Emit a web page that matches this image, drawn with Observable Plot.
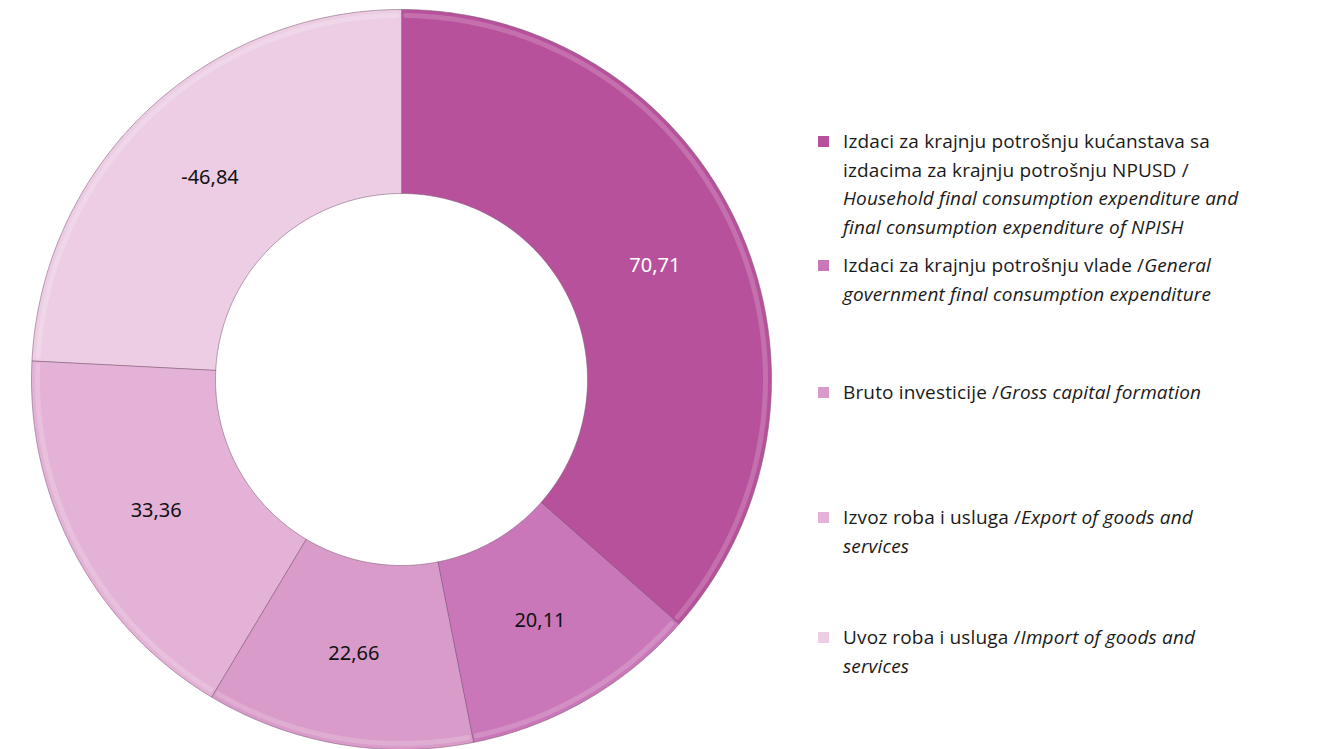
<!DOCTYPE html>
<html>
<head>
<meta charset="utf-8">
<script src="https://cdn.jsdelivr.net/npm/d3@7"></script>
<script src="https://cdn.jsdelivr.net/npm/@observablehq/plot@0.6"></script>
<style>
  html, body { margin: 0; padding: 0; background: #fff; }
  #wrap { position: relative; width: 1326px; height: 749px; overflow: hidden; }
  #legend { position: absolute; left: 816px; top: 0; width: 510px; font-family: "Open Sans", sans-serif; font-size: 19px; color: #1a1a1a; line-height: 28.5px; }
  .item { position: absolute; left: 0; width: 510px; }
  .sw { position: absolute; left: 2px; top: 9px; width: 11px; height: 11px; }
  .txt { position: absolute; left: 27px; width: 480px; letter-spacing: 0.15px; white-space: nowrap; }
  .txt i { font-style: italic; }
</style>
</head>
<body>
<div id="wrap"><div id="chart"></div><div id="legend"></div></div>
<script>
// ---- data ----
const categories = [
  "Izdaci za krajnju potrošnju kućanstava sa izdacima za krajnju potrošnju NPUSD",
  "Izdaci za krajnju potrošnju vlade",
  "Bruto investicije",
  "Izvoz roba i usluga",
  "Uvoz roba i usluga"
];
const values = [70.71, 20.11, 22.66, 33.36, -46.84];
const valueLabels = ["70,71", "20,11", "22,66", "33,36", "-46,84"];
const colors = ["#b7519c", "#c977b8", "#d99bc9", "#e3b2d6", "#ecCde3"];
const labelColors = ["#ffffff", "#111111", "#111111", "#111111", "#111111"];
const legendHtml = [
  "Izdaci za krajnju potrošnju kućanstava sa<br>izdacima za krajnju potrošnju NPUSD /<br><i>Household final consumption expenditure and<br>final consumption expenditure of NPISH</i>",
  "Izdaci za krajnju potrošnju vlade /<i>General<br>government final consumption expenditure</i>",
  "Bruto investicije /<i>Gross capital formation</i>",
  "Izvoz roba i usluga /<i>Export of goods and<br>services</i>",
  "Uvoz roba i usluga /<i>Import of goods and<br>services</i>"
];
const legendTops = [127, 251, 378, 503, 623];

// ---- geometry (layout constants) ----
const W = 1326, H = 749;
const CX = 401, CY = 379;       // donut centre in pixels
const R_OUT = 370, R_IN = 186;

const total = d3.sum(values, v => Math.abs(v));
let acc = 0;
const slices = values.map((v, i) => {
  const a0 = acc / total * 2 * Math.PI;
  acc += Math.abs(v);
  const a1 = acc / total * 2 * Math.PI;
  return {i, name: categories[i], value: v, a0, a1};
});

const pts = [];
for (const s of slices) {
  const n = Math.max(8, Math.ceil((s.a1 - s.a0) / 0.01));
  for (let k = 0; k <= n; k++) {
    const a = s.a0 + (s.a1 - s.a0) * k / n;
    pts.push({name: s.name, i: s.i, x: R_OUT * Math.sin(a), y: -R_OUT * Math.cos(a)});
  }
  for (let k = n; k >= 0; k--) {
    const a = s.a0 + (s.a1 - s.a0) * k / n;
    pts.push({name: s.name, i: s.i, x: R_IN * Math.sin(a), y: -R_IN * Math.cos(a)});
  }
}
// subtle bevel highlight along outer rim
const rim = [];
for (const s of slices) {
  const n = Math.max(8, Math.ceil((s.a1 - s.a0) / 0.01));
  for (let k = 0; k <= n; k++) {
    const a = s.a0 + 0.012 + (s.a1 - s.a0 - 0.024) * k / n;
    rim.push({name: s.name, x: (R_OUT - 6) * Math.sin(a), y: -(R_OUT - 6) * Math.cos(a)});
  }
}
const labelR = (R_OUT + R_IN) / 2;
const labels = slices.map(s => {
  const a = (s.a0 + s.a1) / 2;
  return {text: valueLabels[s.i], fill: labelColors[s.i], x: labelR * Math.sin(a), y: -labelR * Math.cos(a)};
});

const plot = Plot.plot({
  width: W, height: H,
  margin: 0,
  x: {domain: [-CX, W - CX], range: [0, W], axis: null},
  y: {domain: [-CY, H - CY], range: [0, H], axis: null},
  color: {domain: categories, range: colors},
  marks: [
    Plot.line(pts, {x: "x", y: "y", z: "name", fill: "name", stroke: "#7d5a75", strokeWidth: 1, strokeOpacity: 0.55, curve: "linear-closed"}),
    Plot.line(rim, {x: "x", y: "y", z: "name", stroke: "#ffffff", strokeWidth: 5, strokeOpacity: 0.18}),
    Plot.text(labels, {x: "x", y: "y", text: "text", fill: "fill", fontSize: 20, fontFamily: "Noto Sans, sans-serif"})
  ]
});
document.getElementById("chart").appendChild(plot);

const leg = document.getElementById("legend");
categories.forEach((c, i) => {
  const div = document.createElement("div");
  div.className = "item";
  div.style.top = legendTops[i] + "px";
  div.innerHTML = `<div class="sw" style="background:${colors[i]}"></div><div class="txt">${legendHtml[i]}</div>`;
  leg.appendChild(div);
});
</script>
</body>
</html>
